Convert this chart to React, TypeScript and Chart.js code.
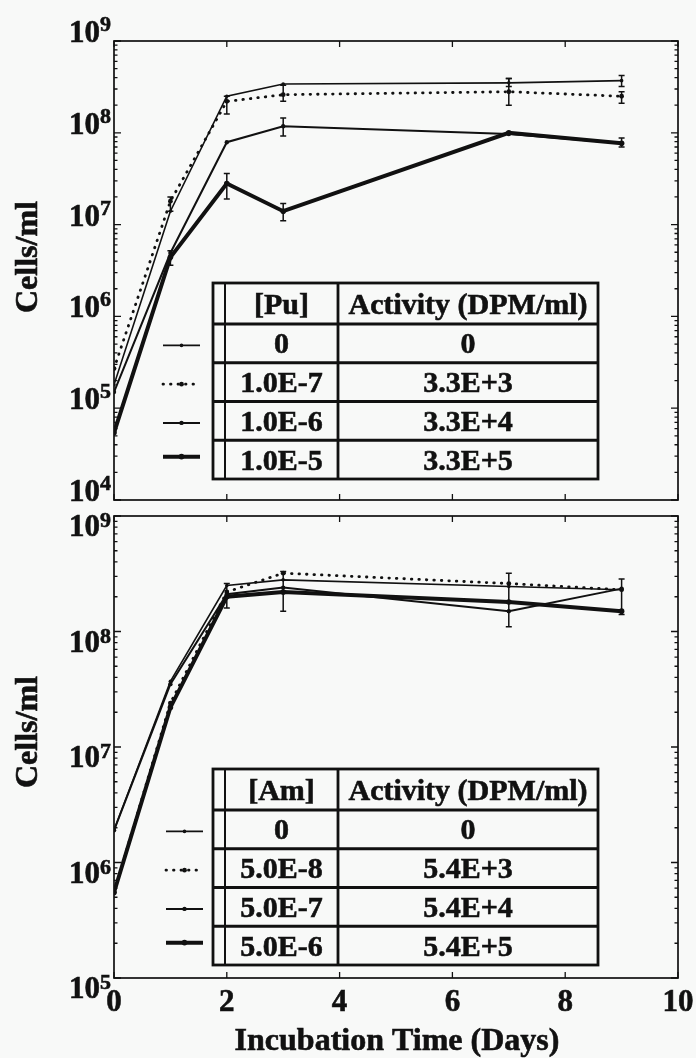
import React, { useEffect, useRef } from "react";
import { Chart, registerables } from "chart.js";

Chart.register(...registerables);

// ---------- data ----------
const DAYS = [0, 1, 2, 3, 7, 9];
const X_TICKS = [0, 2, 4, 6, 8, 10];

// Plutonium panel
const PU_CONC = ["0", "1.0E-7", "1.0E-6", "1.0E-5"];
const PU_ACTIVITY = ["0", "3.3E+3", "3.3E+4", "3.3E+5"];
const PU_DECADES = [4, 5, 6, 7, 8, 9];
const PU_0 = [1.8e5, 1.4e7, 2.5e8, 3.4e8, 3.5e8, 3.7e8];
const PU_1E7 = [2.7e5, 1.8e7, 2.2e8, 2.6e8, 2.8e8, 2.5e8];
const PU_1E6 = [1.5e5, 4.9e6, 7.9e7, 1.18e8, 9.7e7, 7.7e7];
const PU_1E5 = [5.4e4, 4.4e6, 2.8e7, 1.4e7, 1.0e8, 7.7e7];
const PU_0_LO = [null, null, null, null, 3.2e8, 3.2e8];
const PU_0_HI = [null, null, null, null, 3.9e8, 4.2e8];
const PU_1E7_LO = [null, 1.4e7, 1.6e8, 2.2e8, 2.0e8, 2.1e8];
const PU_1E7_HI = [null, 2.0e7, 2.5e8, 3.3e8, 3.9e8, 2.8e8];
const PU_1E6_LO = [null, null, null, 9.2e7, null, null];
const PU_1E6_HI = [null, null, null, 1.45e8, null, null];
const PU_1E5_LO = [null, 3.6e6, 1.9e7, 1.1e7, null, 7.0e7];
const PU_1E5_HI = [null, 5.2e6, 3.6e7, 1.7e7, null, 8.8e7];

// Americium panel
const AM_CONC = ["0", "5.0E-8", "5.0E-7", "5.0E-6"];
const AM_ACTIVITY = ["0", "5.4E+3", "5.4E+4", "5.4E+5"];
const AM_DECADES = [5, 6, 7, 8, 9];
const AM_0 = [1.9e6, 3.7e7, 2.5e8, 2.8e8, 2.45e8, 2.3e8];
const AM_5E8 = [5.5e5, 2.4e7, 2.2e8, 3.2e8, 2.6e8, 2.3e8];
const AM_5E7 = [1.9e6, 3.5e7, 2.1e8, 2.4e8, 1.5e8, 2.35e8];
const AM_5E6 = [5.5e5, 2.2e7, 2.0e8, 2.2e8, 1.8e8, 1.5e8];
const AM_0_LO = [null, null, 1.6e8, null, null, null];
const AM_0_HI = [null, null, 2.6e8, null, null, null];
const AM_5E8_LO = [null, null, null, null, null, null];
const AM_5E8_HI = [null, null, null, null, null, null];
const AM_5E7_LO = [null, null, null, 1.5e8, 1.1e8, null];
const AM_5E7_HI = [null, null, null, 3.3e8, 3.2e8, null];
const AM_5E6_LO = [null, null, null, null, null, 1.4e8];
const AM_5E6_HI = [null, null, null, null, null, 2.85e8];

const SERIF = "'Liberation Serif', 'Times New Roman', serif";
const INK = "#111";
const PAPER = "#f8f9f8";

const STYLES = [
  { width: 1.6, dash: [] as number[], radius: 1.8 },
  { width: 2.8, dash: [0.5, 7], radius: 2.4 },
  { width: 2.0, dash: [] as number[], radius: 2.2 },
  { width: 4.0, dash: [] as number[], radius: 2.8 },
];

type Panel = {
  series: number[][];
  lo: (number | null)[][];
  hi: (number | null)[][];
  conc: string[];
  activity: string[];
  header: string;
  decades: number[];
  labelDy: number;
  expDy: number;
  tableTop: number;
  sampleX: number;
  xAxis: boolean;
};

function boldText(ctx: CanvasRenderingContext2D, s: string, x: number, y: number) {
  ctx.fillText(s, x, y);
  ctx.lineWidth = 0.6;
  ctx.strokeText(s, x, y);
}

function panelPlugin(p: Panel) {
  return {
    id: "panelDecor",
    afterDatasetsDraw(chart: any) {
      const ctx = chart.ctx as CanvasRenderingContext2D;
      const xs = chart.scales.x;
      const ys = chart.scales.y;
      ctx.save();
      ctx.strokeStyle = INK;
      ctx.lineWidth = 1.5;
      p.lo.forEach((loArr, si) => {
        loArr.forEach((lo, i) => {
          const hi = p.hi[si][i];
          if (lo == null || hi == null) return;
          const x = xs.getPixelForValue(DAYS[i]);
          const y1 = ys.getPixelForValue(lo);
          const y2 = ys.getPixelForValue(hi);
          ctx.beginPath();
          ctx.moveTo(x, y1);
          ctx.lineTo(x, y2);
          ctx.moveTo(x - 3, y1);
          ctx.lineTo(x + 3, y1);
          ctx.moveTo(x - 3, y2);
          ctx.lineTo(x + 3, y2);
          ctx.stroke();
        });
      });
      ctx.restore();
    },
    afterDraw(chart: any) {
      const ctx = chart.ctx as CanvasRenderingContext2D;
      const a = chart.chartArea;
      const xs = chart.scales.x;
      const ys = chart.scales.y;
      ctx.save();
      ctx.strokeStyle = INK;
      ctx.fillStyle = INK;
      // frame
      ctx.lineWidth = 1.7;
      ctx.strokeRect(a.left, a.top, a.right - a.left, a.bottom - a.top);
      // x ticks
      ctx.lineWidth = 1.3;
      X_TICKS.forEach((t) => {
        const x = xs.getPixelForValue(t);
        ctx.beginPath();
        ctx.moveTo(x, a.bottom);
        ctx.lineTo(x, a.bottom - 6);
        ctx.moveTo(x, a.top);
        ctx.lineTo(x, a.top + 6);
        ctx.stroke();
      });
      // y ticks (major + minor)
      p.decades.forEach((d, k) => {
        const y = ys.getPixelForValue(Math.pow(10, d));
        ctx.beginPath();
        ctx.moveTo(a.left, y);
        ctx.lineTo(a.left + 7, y);
        ctx.moveTo(a.right, y);
        ctx.lineTo(a.right - 7, y);
        ctx.stroke();
        if (k < p.decades.length - 1) {
          for (let m = 2; m <= 9; m++) {
            const ym = ys.getPixelForValue(m * Math.pow(10, d));
            ctx.beginPath();
            ctx.moveTo(a.left, ym);
            ctx.lineTo(a.left + 3.5, ym);
            ctx.moveTo(a.right, ym);
            ctx.lineTo(a.right - 3.5, ym);
            ctx.stroke();
          }
        }
      });
      // y tick labels 10^n
      p.decades.forEach((d) => {
        const y = ys.getPixelForValue(Math.pow(10, d));
        ctx.font = `bold 31px ${SERIF}`;
        ctx.textAlign = "right";
        ctx.textBaseline = "alphabetic";
        boldText(ctx, "10", a.left - 14, y + p.labelDy);
        ctx.font = `bold 22px ${SERIF}`;
        ctx.textAlign = "left";
        boldText(ctx, String(d), a.left - 14, y + p.expDy);
      });
      // y title
      ctx.save();
      ctx.translate(37, a.top + 216);
      ctx.rotate(-Math.PI / 2);
      ctx.font = `bold 32px ${SERIF}`;
      ctx.textAlign = "center";
      ctx.textBaseline = "alphabetic";
      boldText(ctx, "Cells/ml", 0, 0);
      ctx.restore();
      // x axis labels and title
      if (p.xAxis) {
        ctx.font = `bold 31px ${SERIF}`;
        ctx.textAlign = "center";
        ctx.textBaseline = "alphabetic";
        X_TICKS.forEach((t) => {
          boldText(ctx, String(t), xs.getPixelForValue(t), a.bottom + 33);
        });
        ctx.font = `bold 32px ${SERIF}`;
        boldText(ctx, "Incubation Time (Days)", (a.left + a.right) / 2 + 1, a.bottom + 72);
      }
      // legend table
      const L = a.left + 99;
      const R = a.left + 484;
      const T = a.top + p.tableTop;
      const hh = 41;
      const rh = 38.75;
      const B = T + hh + rh * 4;
      const inner = L + 12;
      const sep = L + 125;
      ctx.fillStyle = PAPER;
      ctx.fillRect(L, T, R - L, B - T);
      ctx.fillStyle = INK;
      ctx.lineWidth = 2.8;
      ctx.strokeRect(L, T, R - L, B - T);
      ctx.beginPath();
      ctx.moveTo(sep, T);
      ctx.lineTo(sep, B);
      for (let r = 0; r < 4; r++) {
        const y = T + hh + rh * r;
        ctx.moveTo(L, y);
        ctx.lineTo(R, y);
      }
      ctx.stroke();
      ctx.lineWidth = 2;
      ctx.beginPath();
      ctx.moveTo(inner, T);
      ctx.lineTo(inner, B);
      ctx.stroke();
      ctx.font = `bold 30px ${SERIF}`;
      ctx.textAlign = "center";
      ctx.textBaseline = "alphabetic";
      const c1 = (inner + sep) / 2;
      const c2 = (sep + R) / 2;
      boldText(ctx, p.header, c1, T + hh / 2 + 10);
      boldText(ctx, "Activity (DPM/ml)", c2, T + hh / 2 + 10);
      for (let r = 0; r < 4; r++) {
        const cy = T + hh + rh * r + rh / 2;
        boldText(ctx, p.conc[r], c1, cy + 10);
        boldText(ctx, p.activity[r], c2, cy + 10);
        // sample line
        const st = STYLES[r];
        const x0 = a.left + p.sampleX;
        const x1 = x0 + 37;
        const ly = cy + 2 - (r === 3 ? 5 : 0);
        ctx.save();
        ctx.lineWidth = st.width;
        ctx.lineCap = st.dash.length ? "round" : "butt";
        ctx.setLineDash(st.dash);
        ctx.beginPath();
        ctx.moveTo(x0, ly);
        ctx.lineTo(x1, ly);
        ctx.stroke();
        ctx.setLineDash([]);
        ctx.beginPath();
        ctx.arc((x0 + x1) / 2, ly, st.radius, 0, Math.PI * 2);
        ctx.fill();
        ctx.restore();
      }
      ctx.restore();
    },
  };
}

function makeChart(canvas: HTMLCanvasElement, p: Panel, padding: any) {
  const datasets = p.series.map((vals, si) => ({
    label: p.conc[si],
    data: DAYS.map((d, i) => ({ x: d, y: vals[i] })),
    borderColor: INK,
    backgroundColor: INK,
    borderWidth: STYLES[si].width,
    borderDash: STYLES[si].dash,
    borderCapStyle: (STYLES[si].dash.length ? "round" : "butt") as any,
    pointRadius: STYLES[si].radius,
    pointBorderWidth: 0,
    pointBackgroundColor: INK,
    tension: 0,
    fill: false,
  }));
  return new Chart(canvas, {
    type: "line",
    data: { datasets },
    options: {
      animation: false,
      responsive: false,
      maintainAspectRatio: false,
      layout: { padding },
      plugins: { legend: { display: false }, tooltip: { enabled: false } },
      scales: {
        x: { type: "linear", min: 0, max: 10, display: false },
        y: {
          type: "logarithmic",
          min: Math.pow(10, p.decades[0]),
          max: Math.pow(10, p.decades[p.decades.length - 1]),
          display: false,
        },
      },
    },
    plugins: [panelPlugin(p)],
  });
}

const PU_PANEL: Panel = {
  series: [PU_0, PU_1E7, PU_1E6, PU_1E5],
  lo: [PU_0_LO, PU_1E7_LO, PU_1E6_LO, PU_1E5_LO],
  hi: [PU_0_HI, PU_1E7_HI, PU_1E6_HI, PU_1E5_HI],
  conc: PU_CONC,
  activity: PU_ACTIVITY,
  header: "[Pu]",
  decades: PU_DECADES,
  labelDy: 1,
  expDy: -10,
  tableTop: 242,
  sampleX: 49,
  xAxis: false,
};

const AM_PANEL: Panel = {
  series: [AM_0, AM_5E8, AM_5E7, AM_5E6],
  lo: [AM_0_LO, AM_5E8_LO, AM_5E7_LO, AM_5E6_LO],
  hi: [AM_0_HI, AM_5E8_HI, AM_5E7_HI, AM_5E6_HI],
  conc: AM_CONC,
  activity: AM_ACTIVITY,
  header: "[Am]",
  decades: AM_DECADES,
  labelDy: 20,
  expDy: 11,
  tableTop: 253,
  sampleX: 52,
  xAxis: true,
};

export default function App() {
  const topRef = useRef<HTMLCanvasElement>(null);
  const botRef = useRef<HTMLCanvasElement>(null);
  useEffect(() => {
    const c1 = makeChart(topRef.current!, PU_PANEL, { left: 114, top: 41, right: 18, bottom: 5 });
    const c2 = makeChart(botRef.current!, AM_PANEL, { left: 114, top: 11, right: 18, bottom: 80 });
    return () => {
      c1.destroy();
      c2.destroy();
    };
  }, []);
  return (
    <div
      style={{
        position: "absolute",
        left: 0,
        top: 0,
        width: 696,
        height: 1058,
        background: PAPER,
        overflow: "hidden",
      }}
    >
      <canvas
        ref={topRef}
        width={696}
        height={505}
        style={{ position: "absolute", left: 0, top: 0, width: 696, height: 505 }}
      />
      <canvas
        ref={botRef}
        width={696}
        height={553}
        style={{ position: "absolute", left: 0, top: 505, width: 696, height: 553 }}
      />
    </div>
  );
}
